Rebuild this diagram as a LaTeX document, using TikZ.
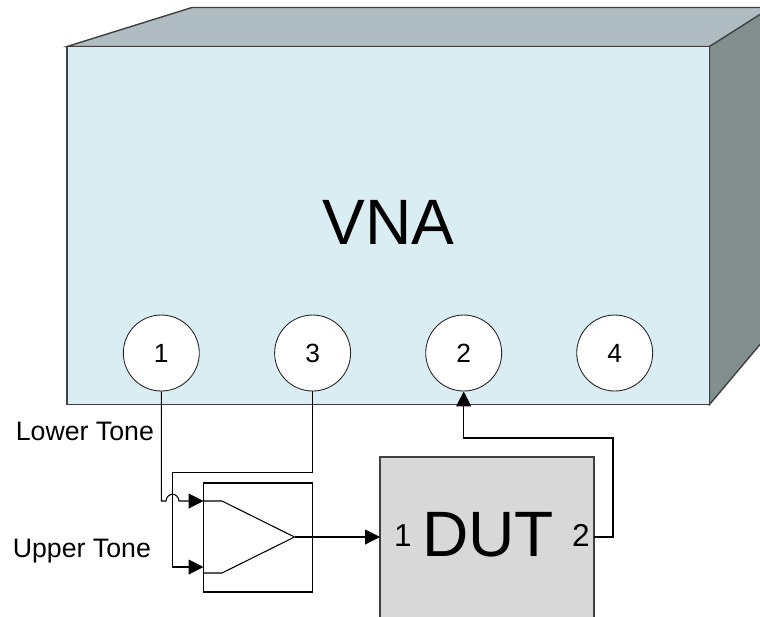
\documentclass[tikz,border=0pt]{standalone}
\usepackage{fontspec}
\setmainfont{Liberation Sans}
\usetikzlibrary{arrows.meta}

\definecolor{vnafront}{HTML}{DAEDF3}
\definecolor{vnatop}{HTML}{AFBDC2}
\definecolor{vnaside}{HTML}{838F8F}
\definecolor{dutgray}{HTML}{D8D8D8}

\tikzset{
  wall/.style={draw=black!75, line width=.8pt},
  port/.style={circle, draw=black!85, fill=white, line width=.5pt, minimum size=1.52cm, inner sep=0pt, font=\fontsize{15}{18}\selectfont},
  wire/.style={draw=black, line width=.6pt},
  feed/.style={wire, -{Triangle[length=8.5pt, width=8.5pt]}},
  tone/.style={anchor=base west, inner sep=0pt, font=\fontsize{15.2}{18}\selectfont},
  dutport/.style={anchor=base, inner sep=0pt, font=\fontsize{18}{21}\selectfont},
}

\begin{document}
\begin{tikzpicture}[x=.02cm, y=-.02cm]
        \clip (0, 0) rectangle (760, 616);
        \draw[wall, fill=vnatop] (67, 46.5) -- (192, 7.5) -- (800, 7.5) -- (800, 46.5) -- cycle;
        \draw[wall, fill=vnaside] (709.5, 46.5) -- (800, -11) -- (800, 297) -- (709.5, 404.5) -- cycle;
        \draw[wall, fill=vnafront] (67, 46.5) rectangle (709.5, 404.5);
        \node[inner sep=0pt, anchor=base, font=\fontsize{36.5}{42}\selectfont] (vna) at (388.5, 244.5) {VNA};
        \node[port] (port1) at (161.3, 353) {1};
        \node[port] (port3) at (312.6, 353) {3};
        \node[port] (port2) at (463.7, 353) {2};
        \node[port] (port4) at (614.7, 353) {4};
        \node[tone] (lower) at (15.5, 440) {Lower Tone};
        \node[tone] (upper) at (12.5, 557) {Upper Tone};
        \draw[wall, fill=dutgray] (380, 457) rectangle (594, 660);
        \node[inner sep=0pt, anchor=base, font=\fontsize{36.5}{42}\selectfont] (dut) at (488, 556) {DUT};
        \node[dutport] (dut1) at (403, 546) {1};
        \node[dutport] (dut2) at (581, 546) {2};
        \draw[wire] (203.5, 483) rectangle (312.5, 592);
        \draw[wire] (203.5, 501) -- (222, 501) -- (294.5, 537) -- (222, 573) -- (203.5, 573);
        \coordinate (ampin1) at (203.5, 501);
        \coordinate (ampin2) at (203.5, 567);
        \coordinate (ampout) at (294.5, 537);
        \coordinate (dutin) at (380, 537);
        \coordinate (dutout) at (594, 537);
        \draw[feed] (port1.south) -- (161.3, 501) -- (166, 501) .. controls (167, 492) and (178, 492) .. (179, 501) -- (ampin1);
        \draw[feed] (port3.south) -- (312.6, 472.5) -- (172.5, 472.5) -- (172.5, 567) -- (ampin2);
        \draw[feed] (ampout) -- (dutin);
        \draw[feed] (dutout) -- (613, 537) -- (613, 438) -- (463.7, 438) -- (port2.south);
\end{tikzpicture}
\end{document}
